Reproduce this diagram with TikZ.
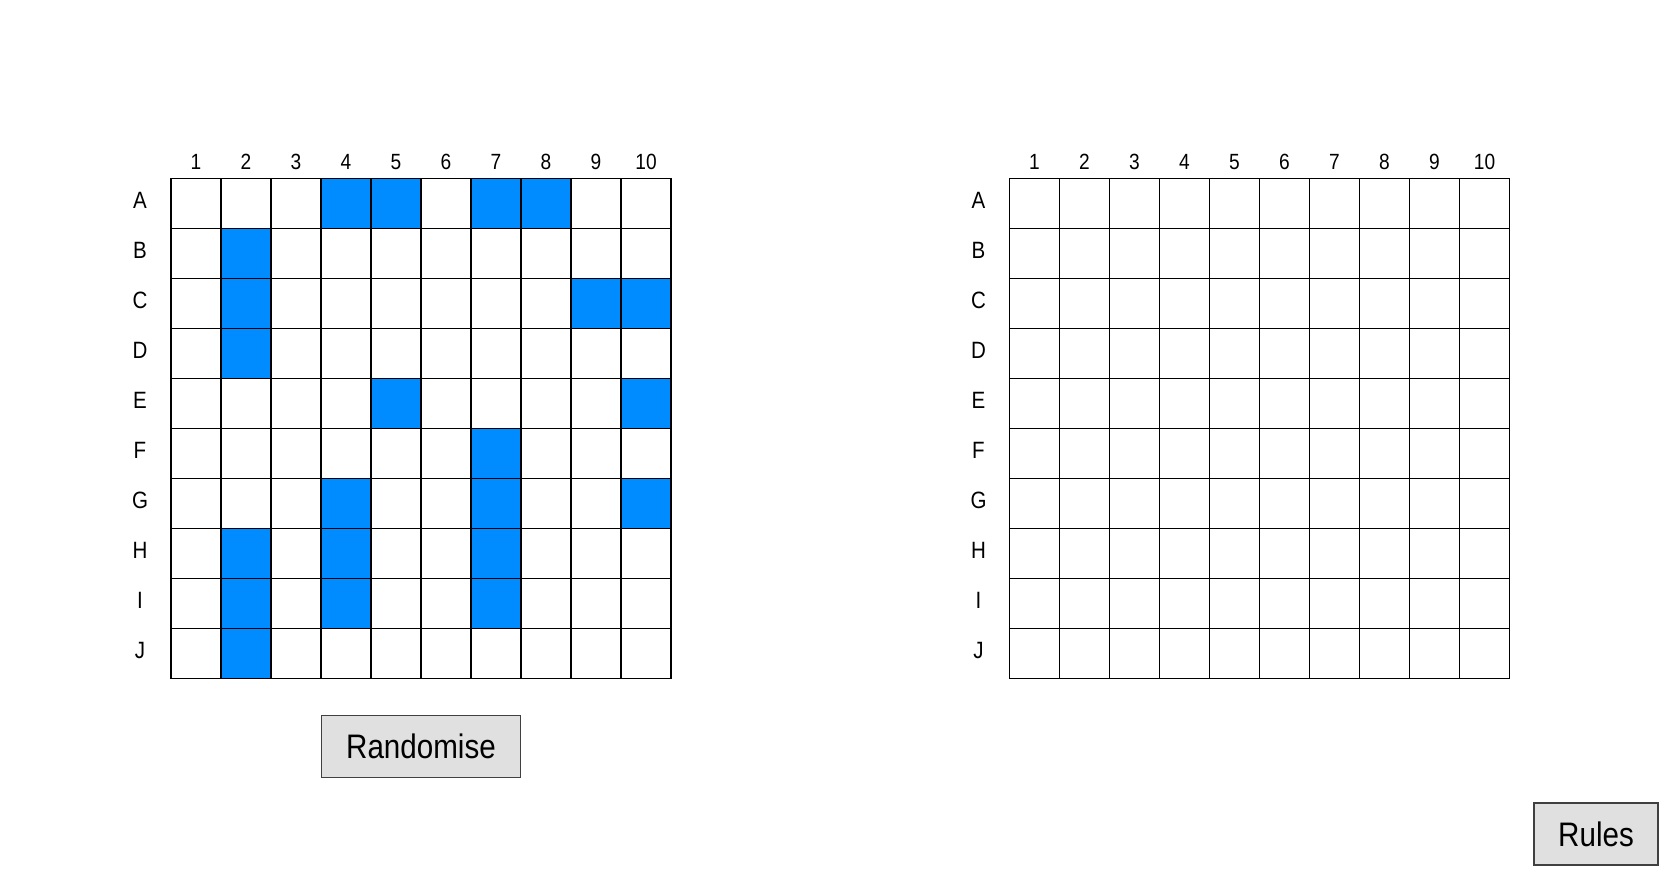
\documentclass[tikz,border=0pt]{standalone}
\usepackage{fontspec}
\setmainfont{Liberation Sans}[FakeStretch=0.87]
\usepackage{tikz}

\definecolor{shipblue}{RGB}{0,140,255}
\definecolor{buttongray}{RGB}{224,224,224}
\definecolor{buttonedge}{RGB}{64,64,64}

\begin{document}
\begin{tikzpicture}[x=0.5pt,y=-0.5pt,
	cell/.style={draw,minimum size=25pt,inner sep=0pt,line width=0.6pt},
	ship/.style={cell,fill=shipblue},
	collabel/.style={font=\fontsize{11}{12}\selectfont},
	rowlabel/.style={font=\fontsize{11.8}{13}\selectfont},
	button/.style={draw=buttonedge,fill=buttongray,line width=0.8pt,inner sep=0pt,minimum height=31pt,font=\fontsize{17}{19}\selectfont}]
	\useasboundingbox (0,0) rectangle (1675,872);
	
	% the two boards
	\foreach \g/\gx in {own/171,shot/1009.5} {
		\foreach \r [count=\i] in {A,B,C,D,E,F,G,H,I,J} {
			\node[rowlabel] (\g-row-\r) at (\gx-31, 178.5+50*\i-28) {\r};
			\foreach \c in {1,...,10}
				\node[cell] (\g-\r-\c) at (\gx+50*\c-25, 178.5+50*\i-25) {};
		}
		\foreach \c in {1,...,10}
			\node[collabel] (\g-col-\c) at (\gx+50*\c-25, 162) {\c};
	}
	
	% ships
	\foreach \s in {A-4,A-5,A-7,A-8,B-2,C-2,C-9,C-10,D-2,E-5,E-10,F-7,G-4,G-7,G-10,H-2,H-4,H-7,I-2,I-4,I-7,J-2}
		\node[ship] (ship-\s) at (own-\s) {};
	
	% buttons
	\node[button,minimum width=99.5pt] (randomise) at (421,746.5) {Randomise};
	\node[button,minimum width=62pt] (rules) at (1596,834) {Rules};
\end{tikzpicture}
\end{document}
